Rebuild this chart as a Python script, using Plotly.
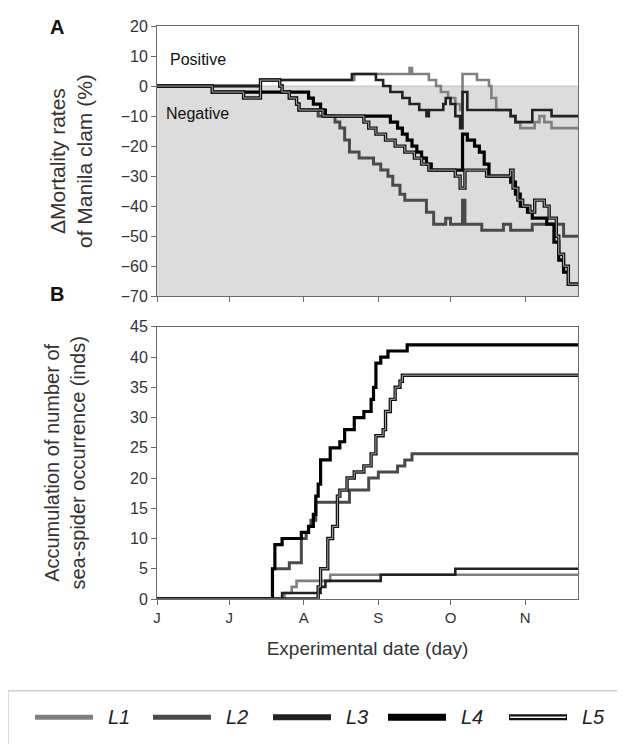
import pandas as pd
import plotly.graph_objects as go

# ---------------- data ----------------
START = pd.Timestamp("2011-06-01")
END_DAY = 175
MONTH_TICK_DAYS = [0, 30, 61, 92, 122, 153]
MONTH_LABELS = ["J", "J", "A", "S", "O", "N"]
LINE_NAMES = ["L1", "L2", "L3", "L4", "L5"]

# Panel A: change in mortality rate (%), step series (day since 1 Jun, value)
A_L1_DAY = [0, 43, 82, 105, 106, 113, 116, 118, 121, 124, 126, 127, 133, 138, 139, 141, 147, 149, 151, 157, 159, 161, 164]
A_L1_VAL = [0, 2, 4, 6, 4, 2, 0, -2, -4, -6, -8, 4, 2, 0, -4, -8, -10, -12, -14, -12, -10, -12, -14]

A_L2_DAY = [0, 43, 51, 52, 55, 58, 59, 67, 74, 76, 78, 80, 84, 90, 93, 96, 98, 101, 103, 112, 115, 120, 122, 127, 128, 135, 144, 147, 156, 169]
A_L2_VAL = [0, 2, 0, -2, -4, -6, -8, -10, -12, -14, -18, -22, -24, -26, -28, -30, -33, -36, -38, -42, -46, -44, -46, -38, -46, -48, -46, -48, -46, -50]

A_L3_DAY = [0, 43, 81, 91, 94, 97, 102, 105, 109, 112, 113, 119, 120, 122, 124, 126, 127, 129, 147, 149, 156, 164]
A_L3_VAL = [0, 2, 4, 2, 0, -2, -4, -6, -8, -10, -8, -6, -4, -6, -10, -14, -2, -8, -10, -12, -8, -10]

A_L4_DAY = [0, 23, 63, 65, 68, 70, 97, 100, 102, 104, 106, 108, 110, 112, 114, 127, 129, 132, 134, 136, 138, 147, 149, 151, 154, 156, 162, 165, 167, 169, 171]
A_L4_VAL = [0, -2, -4, -6, -8, -10, -12, -14, -16, -18, -20, -22, -24, -26, -28, -16, -18, -20, -22, -26, -30, -32, -36, -40, -42, -44, -46, -52, -58, -62, -66]

A_L5_DAY = [0, 23, 36, 43, 51, 52, 55, 58, 59, 69, 86, 88, 91, 95, 99, 103, 107, 110, 113, 124, 126, 128, 137, 147, 148, 150, 152, 155, 157, 161, 163, 166, 167, 169, 171]
A_L5_VAL = [0, -2, -4, 2, 0, -2, -4, -6, -8, -10, -12, -14, -16, -18, -20, -22, -24, -26, -28, -30, -34, -28, -30, -28, -34, -38, -40, -42, -38, -40, -44, -50, -56, -60, -66]

# Panel B: accumulated sea-spider occurrence (inds)
B_L1_DAY = [0, 53, 56, 58, 72]
B_L1_VAL = [0, 1, 2, 3, 4]

B_L2_DAY = [0, 48, 55, 60, 62, 63, 64, 66, 80, 88, 92, 100, 103, 106]
B_L2_VAL = [0, 5, 6, 10, 11, 12, 13, 16, 18, 20, 21, 22, 23, 24]

B_L3_DAY = [0, 52, 68, 70, 93, 124]
B_L3_VAL = [0, 1, 2, 3, 4, 5]

B_L4_DAY = [0, 48, 49, 52, 60, 63, 65, 66, 67, 68, 72, 76, 78, 82, 86, 89, 90, 91, 93, 96, 104]
B_L4_VAL = [0, 5, 9, 10, 11, 12, 14, 17, 19, 23, 25, 26, 28, 30, 31, 33, 35, 39, 40, 41, 42]

B_L5_DAY = [0, 67, 68, 71, 73, 75, 76, 79, 82, 86, 89, 91, 94, 95, 97, 99, 101, 102]
B_L5_VAL = [0, 2, 5, 10, 12, 17, 18, 20, 21, 22, 24, 27, 28, 31, 33, 35, 36, 37]

A_RANGE = [-70, 20]
B_RANGE = [0, 45]

# ---------------- styling ----------------
# The page body has an 8px default margin, so the figure is drawn 8px in
# from the top-left corner of the window; sizes account for that.
PAGE_OFFSET = 8
W, H = 625 - PAGE_OFFSET, 744 - PAGE_OFFSET
ML, MR, MT, MB = 157 - PAGE_OFFSET, 47, 18 - PAGE_OFFSET, 145
FONT = "Liberation Sans, Arial, sans-serif"
TXT = "#333333"
AXC = "#6a6a6a"

STYLE = {
    "L1": dict(color="#808080", width=2.6),
    "L2": dict(color="#4a4a4a", width=3.0),
    "L3": dict(color="#222222", width=2.6),
    "L4": dict(color="#000000", width=3.2),
    "L5": dict(color="#111111", width=3.4),
}
L5_INNER = dict(color="#b8b8b8", width=0.9)

plot_h = H - MT - MB
plot_w = W - ML - MR


def px_x(px):
    """window pixel -> paper x"""
    return (px - PAGE_OFFSET - ML) / plot_w


def px_y(py):
    """window pixel -> paper y"""
    return (H - MB - (py - PAGE_OFFSET)) / plot_h


A_DOMAIN = [px_y(292), 1.0]
B_DOMAIN = [0.0, px_y(323)]


def to_dates(days):
    s = list(days) + [END_DAY]
    return [START + pd.Timedelta(days=d) for d in s]


def extend(vals):
    return list(vals) + [vals[-1]]


A_DATA = {
    "L1": (A_L1_DAY, A_L1_VAL), "L2": (A_L2_DAY, A_L2_VAL), "L3": (A_L3_DAY, A_L3_VAL),
    "L4": (A_L4_DAY, A_L4_VAL), "L5": (A_L5_DAY, A_L5_VAL),
}
B_DATA = {
    "L1": (B_L1_DAY, B_L1_VAL), "L2": (B_L2_DAY, B_L2_VAL), "L3": (B_L3_DAY, B_L3_VAL),
    "L4": (B_L4_DAY, B_L4_VAL), "L5": (B_L5_DAY, B_L5_VAL),
}

fig = go.Figure()

for data, xa, ya in [(A_DATA, "x", "y"), (B_DATA, "x2", "y2")]:
    for name in LINE_NAMES:
        d, v = data[name]
        fig.add_trace(go.Scatter(
            x=to_dates(d), y=extend(v), mode="lines", line_shape="hv",
            line=STYLE[name], name=name, showlegend=False, xaxis=xa, yaxis=ya,
            hoverinfo="skip"))
        if name == "L5":
            fig.add_trace(go.Scatter(
                x=to_dates(d), y=extend(v), mode="lines", line_shape="hv",
                line=L5_INNER, showlegend=False, xaxis=xa, yaxis=ya,
                hoverinfo="skip"))

tickvals = [START + pd.Timedelta(days=d) for d in MONTH_TICK_DAYS]
xrange_ = [START, START + pd.Timedelta(days=END_DAY)]

common_axis = dict(showline=True, mirror=True, linecolor=AXC, linewidth=1,
                   ticks="outside", ticklen=5, tickcolor=AXC, tickwidth=1,
                   showgrid=False, zeroline=False)

fig.update_layout(
    width=W, height=H,
    margin=dict(l=ML, r=MR, t=MT, b=MB),
    paper_bgcolor="white", plot_bgcolor="white",
    font=dict(family=FONT, color=TXT),
    showlegend=False,
    xaxis=dict(domain=[0, 1], anchor="y", range=xrange_, tickvals=tickvals,
               showticklabels=False, **common_axis),
    yaxis=dict(domain=A_DOMAIN, anchor="x", range=A_RANGE, dtick=10,
               tickfont=dict(size=16, color=TXT),
               title=dict(text="ΔMortality rates<br>of Manila clam (%)",
                          font=dict(size=21, color=TXT), standoff=22),
               **common_axis),
    xaxis2=dict(domain=[0, 1], anchor="y2", range=xrange_, tickvals=tickvals,
                ticktext=MONTH_LABELS, tickfont=dict(size=15, color=TXT),
                title=dict(text="Experimental date (day)",
                           font=dict(size=19, color=TXT), standoff=16),
                **common_axis),
    yaxis2=dict(domain=B_DOMAIN, anchor="x2", range=B_RANGE, dtick=5,
                tickfont=dict(size=16, color=TXT),
                title=dict(text="Accumulation of number of<br>sea-spider occurrence (inds)",
                           font=dict(size=20, color=TXT), standoff=38),
                **common_axis),
)

shapes = [
    # negative zone shading
    dict(type="rect", xref="x domain", yref="y", x0=0, x1=1, y0=A_RANGE[0], y1=0,
         fillcolor="#dcdcdc", line=dict(width=0), layer="below"),
    dict(type="line", xref="x domain", yref="y", x0=0, x1=1, y0=0, y1=0,
         line=dict(color="#c4c4c4", width=1), layer="below"),
    # legend frame
    dict(type="rect", xref="paper", yref="paper", x0=px_x(8), x1=px_x(650),
         y0=px_y(770), y1=px_y(692), line=dict(color="#d0d0d0", width=1.5),
         fillcolor="rgba(0,0,0,0)"),
]

annotations = [
    dict(text="<b>A</b>", xref="paper", yref="paper", x=px_x(57), y=px_y(19),
         showarrow=False, font=dict(size=20, color="#111111"), xanchor="center", yanchor="middle"),
    dict(text="<b>B</b>", xref="paper", yref="paper", x=px_x(57), y=px_y(290),
         showarrow=False, font=dict(size=20, color="#111111"), xanchor="center", yanchor="middle"),
    dict(text="Positive", xref="x domain", yref="y", x=px_x(168), y=9,
         showarrow=False, font=dict(size=16, color="#111111"), xanchor="left"),
    dict(text="Negative", xref="x domain", yref="y", x=px_x(164), y=-9,
         showarrow=False, font=dict(size=16, color="#111111"), xanchor="left"),
]

# custom legend (L5 needs a double line sample)
LEG_SAMPLE_X = [35, 153, 273, 388, 509]
LEG_Y = 719
for name, sx in zip(LINE_NAMES, LEG_SAMPLE_X):
    st = STYLE[name]
    lw = {"L1": 5, "L2": 5, "L3": 6, "L4": 7, "L5": 6}[name]
    shapes.append(dict(type="line", xref="paper", yref="paper",
                       x0=px_x(sx), x1=px_x(sx + 58), y0=px_y(LEG_Y), y1=px_y(LEG_Y),
                       line=dict(color=st["color"], width=lw)))
    if name == "L5":
        shapes.append(dict(type="line", xref="paper", yref="paper",
                           x0=px_x(sx + 1), x1=px_x(sx + 57), y0=px_y(LEG_Y), y1=px_y(LEG_Y),
                           line=dict(color="#f2f2f2", width=1.5)))
    annotations.append(dict(text="<i>%s</i>" % name, xref="paper", yref="paper",
                            x=px_x(sx + 71), y=px_y(LEG_Y), xanchor="left", yanchor="middle",
                            showarrow=False, font=dict(size=20, color="#222222")))

fig.update_layout(shapes=shapes, annotations=annotations)

fig.write_html("out.html")
